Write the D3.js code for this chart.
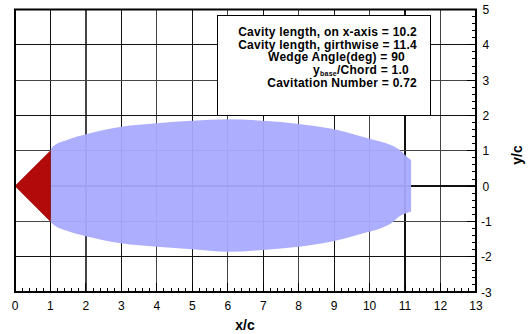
<!DOCTYPE html>
<html>
<head>
<meta charset="utf-8">
<script src="https://cdn.jsdelivr.net/npm/d3@7"></script>
<style>
  body { margin: 0; background: #fff; }
  text { font-family: "Liberation Sans", Arial, sans-serif; }
</style>
</head>
<body>
<svg id="chart" width="532" height="334"></svg>
<script>
// Cavity outline (x/c, upper and lower y/c)
const cavityX     = [1, 1.05, 1.5, 2, 3, 4, 5, 6, 7, 8, 8.9, 9.8, 10.3, 10.6, 10.9, 11.05, 11.17];
const cavityTop   = [1.0, 1.1, 1.32, 1.47, 1.68, 1.78, 1.85, 1.89, 1.85, 1.76, 1.63, 1.40, 1.26, 1.16, 0.98, 0.83, 0.74];
const cavityBot   = [-1.0, -1.06, -1.28, -1.42, -1.62, -1.72, -1.79, -1.86, -1.81, -1.72, -1.58, -1.34, -1.2, -1.06, -0.82, -0.76, -0.73];

// Wedge (x/c, y/c)
const wedgeX = [0, 1, 1];
const wedgeY = [0, 1, -1];

const xTicks = d3.range(0, 14);
const yTicks = d3.range(-3, 6);

const legendLines = [
  "Cavity length, on x-axis = 10.2",
  "Cavity length, girthwise = 11.4",
  "Wedge Angle(deg) = 90",
  null, // y_base/Chord line, built with a subscript
  "Cavitation Number = 0.72"
];
const ybaseValue = "1.0";

const svg = d3.select("#chart");
const margin = { top: 9.5, right: 56, bottom: 42, left: 15 };
const width = 532 - margin.left - margin.right;
const height = 334 - margin.top - margin.bottom;

const x = d3.scaleLinear().domain([0, 13]).range([margin.left, margin.left + width]);
const y = d3.scaleLinear().domain([-3, 5]).range([margin.top + height, margin.top]);

// Grid
const grid = svg.append("g").attr("shape-rendering", "crispEdges");
grid.selectAll(".vg").data(xTicks).enter().append("line")
  .attr("x1", d => x(d)).attr("x2", d => x(d))
  .attr("y1", y(5)).attr("y2", y(-3))
  .attr("stroke", (d, i) => i % 2 ? "#111" : "#444").attr("stroke-width", 1.2);
grid.selectAll(".hg").data(yTicks).enter().append("line")
  .attr("x1", x(0)).attr("x2", x(13))
  .attr("y1", d => y(d)).attr("y2", d => y(d))
  .attr("stroke", (d, i) => i % 2 ? "#111" : "#444").attr("stroke-width", 1.2);

// Cavity
const cav = cavityX.map((d, i) => ({ x: d, t: cavityTop[i], b: cavityBot[i] }));
const area = d3.area()
  .x(d => x(d.x))
  .y0(d => y(d.b))
  .y1(d => y(d.t))
  .curve(d3.curveMonotoneX);
svg.append("path").datum(cav)
  .attr("d", area)
  .attr("fill", "#aaaaff")
  .attr("fill-opacity", 0.95);

// Wedge
svg.append("path")
  .datum(wedgeX.map((d, i) => [x(d), y(wedgeY[i])]))
  .attr("d", d => d3.line()(d) + "Z")
  .attr("fill", "#b20a0a")
  .attr("stroke", "#8a0000")
  .attr("stroke-width", 0.5);

// Minor + major ticks, pointing inward
const minorX = d3.range(0, 13.001, 0.2);
const minorY = d3.range(-3, 5.001, 0.2);
const ticks = svg.append("g").attr("stroke", "#000").attr("shape-rendering", "crispEdges");
ticks.selectAll(".mx").data(minorX).enter().append("line")
  .attr("x1", d => x(d)).attr("x2", d => x(d))
  .attr("y1", y(-3)).attr("y2", (d, i) => y(-3) - (i % 5 ? 4 : 9));
ticks.selectAll(".my").data(minorY).enter().append("line")
  .attr("y1", d => y(d)).attr("y2", d => y(d))
  .attr("x1", x(13)).attr("x2", (d, i) => x(13) - (i % 5 ? 4 : 9));

// Frame
svg.append("rect")
  .attr("x", x(0)).attr("y", y(5))
  .attr("width", x(13) - x(0)).attr("height", y(-3) - y(5))
  .attr("fill", "none").attr("stroke", "#000").attr("stroke-width", 2);

// Tick labels
svg.selectAll(".xl").data(xTicks).enter().append("text")
  .attr("x", d => x(d)).attr("y", 310)
  .attr("text-anchor", "middle").attr("font-size", 12)
  .text(d => d);
svg.selectAll(".yl").data(yTicks).enter().append("text")
  .attr("x", d => d < 0 ? x(13) + 5 : x(13) + 6.5).attr("y", d => y(d) + 4.5)
  .attr("font-size", 12)
  .text(d => d);

// Axis titles
svg.append("text").attr("x", 245).attr("y", 330)
  .attr("text-anchor", "middle").attr("font-size", 14).attr("font-weight", "bold")
  .text("x/c");
svg.append("text").attr("transform", "translate(522,155) rotate(-90)")
  .attr("text-anchor", "middle").attr("font-size", 14).attr("font-weight", "bold")
  .text("y/c");

// Legend box
const lg = svg.append("g");
lg.append("rect").attr("x", 217.5).attr("y", 15.5).attr("width", 213).attr("height", 100)
  .attr("fill", "#fff").attr("stroke", "#000").attr("stroke-width", 1);
const lineEnd = [417, 417, 405, 409, 417];
const lineBase = [36, 48.7, 61.4, 74.1, 86.8];
legendLines.forEach((s, i) => {
  const t = lg.append("text")
    .attr("x", lineEnd[i]).attr("y", lineBase[i])
    .attr("text-anchor", "end").attr("font-size", 12).attr("font-weight", "bold")
    .attr("letter-spacing", 0.25);
  if (s !== null) {
    t.text(s);
  } else {
    t.append("tspan").text("y");
    t.append("tspan").attr("font-size", 7).attr("dy", 2).text("base");
    t.append("tspan").attr("dy", -2).text("/Chord = " + ybaseValue);
  }
});
</script>
</body>
</html>
